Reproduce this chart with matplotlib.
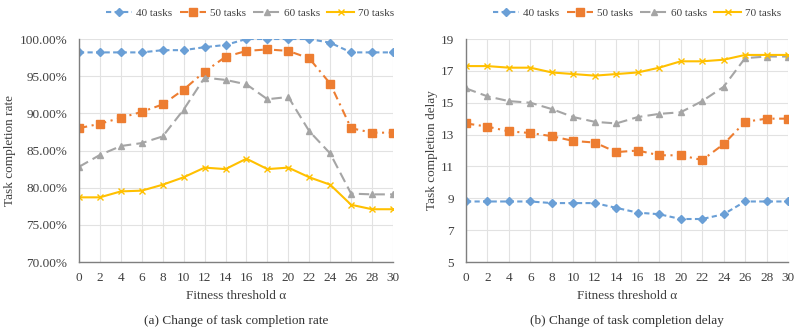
import numpy as np
import matplotlib
matplotlib.use("Agg")
from matplotlib import pyplot as plt
from matplotlib.ticker import FuncFormatter

plt.rcParams['font.family'] = ['Liberation Serif', 'DejaVu Serif']

thresholds = [0, 2, 4, 6, 8, 10, 12, 14, 16, 18, 20, 22, 24, 26, 28, 30]
series_names = ['40 tasks', '50 tasks', '60 tasks', '70 tasks']

# completion rate (%)
rate_40 = [98.2, 98.2, 98.2, 98.2, 98.5, 98.5, 98.9, 99.2, 100.0, 100.0, 100.0, 100.0, 99.5, 98.2, 98.2, 98.2]
rate_50 = [88.0, 88.6, 89.4, 90.2, 91.2, 93.2, 95.6, 97.6, 98.4, 98.6, 98.4, 97.4, 94.0, 88.0, 87.4, 87.4]
rate_60 = [82.8, 84.4, 85.6, 86.0, 86.9, 90.5, 94.8, 94.5, 93.9, 91.9, 92.2, 87.6, 84.6, 79.2, 79.1, 79.1]
rate_70 = [78.7, 78.7, 79.5, 79.6, 80.4, 81.4, 82.7, 82.5, 83.9, 82.5, 82.7, 81.4, 80.4, 77.7, 77.1, 77.1]

# completion delay
delay_40 = [8.8, 8.8, 8.8, 8.8, 8.7, 8.7, 8.7, 8.4, 8.1, 8.0, 7.7, 7.7, 8.0, 8.8, 8.8, 8.8]
delay_50 = [13.7, 13.5, 13.2, 13.1, 12.9, 12.6, 12.5, 11.9, 12.0, 11.7, 11.7, 11.4, 12.4, 13.8, 14.0, 14.0]
delay_60 = [15.9, 15.4, 15.1, 15.0, 14.6, 14.1, 13.8, 13.7, 14.1, 14.3, 14.4, 15.1, 16.0, 17.8, 17.9, 17.9]
delay_70 = [17.3, 17.3, 17.2, 17.2, 16.9, 16.8, 16.7, 16.8, 16.9, 17.2, 17.6, 17.6, 17.7, 18.0, 18.0, 18.0]

styles = [
    dict(color='#6a9fd6', linestyle=(0, (2.5, 1.6)), marker='D', markersize=3.8),
    dict(color='#ed7d31', linestyle=(0, (4, 2.2, 1, 2.2)), marker='s', markersize=5.5),
    dict(color='#a5a5a5', linestyle=(0, (5, 2.5)), marker='^', markersize=5),
    dict(color='#ffc000', linestyle='-', marker='x', markersize=5),
]


def draw_panel(ax, series, ylim, yticks, ylabel, caption, ylabel_x, legend_x, fmt=None):
    for name, vals, st in zip(series_names, series, styles):
        ax.plot(thresholds, vals, label=name, linewidth=1.5, markeredgewidth=1.0, **st)
    ax.set_xlim(0, 30)
    ax.set_ylim(*ylim)
    ax.set_xticks(thresholds)
    ax.set_yticks(yticks)
    if fmt:
        ax.yaxis.set_major_formatter(FuncFormatter(fmt))
    ax.grid(True, color='#e2e2e2', linewidth=0.8)
    ax.set_axisbelow(True)
    for s in ['top', 'right']:
        ax.spines[s].set_visible(False)
    for s in ['left', 'bottom']:
        ax.spines[s].set_color('#7f7f7f')
        ax.spines[s].set_linewidth(1.0)
    ax.tick_params(length=0, labelsize=9.5, colors='#404040')
    ax.tick_params(axis='y', pad=8.5)
    ax.tick_params(axis='x', pad=7)
    ax.set_ylabel(ylabel, fontsize=9.5, color='#404040', va='center')
    ax.yaxis.set_label_coords(ylabel_x, 0.5)
    ax.set_xlabel('Fitness threshold α', fontsize=9.5, color='#404040', va='center')
    ax.xaxis.set_label_coords(0.5, -0.151)
    pos = ax.get_position()
    fig.text((pos.x0 + pos.x1) / 2, 0.033, caption, ha='center', va='center',
             fontsize=9.5, color='#333333')
    handles, labels = ax.get_legend_handles_labels()
    fig.legend(handles, labels, loc='center', bbox_to_anchor=(legend_x, 0.962), ncol=4,
               frameon=False, fontsize=8, handlelength=2.4, columnspacing=0.65,
               handletextpad=0.35, labelcolor='#404040')


fig = plt.figure(figsize=(7.96, 3.32), dpi=100)
ax1 = fig.add_axes([0.0992, 0.2108, 0.3945, 0.6717])
ax2 = fig.add_axes([0.5854, 0.2108, 0.4046, 0.6717])

draw_panel(ax1, [rate_40, rate_50, rate_60, rate_70], (70, 100), np.arange(70, 101, 5),
           'Task completion rate', '(a) Change of task completion rate', -0.22, 0.314,
           fmt=lambda v, p: f'{v:.2f}%')
draw_panel(ax2, [delay_40, delay_50, delay_60, delay_70], (5, 19), np.arange(5, 20, 2),
           'Task completion delay', '(b) Change of task completion delay', -0.106, 0.80)

fig.savefig('out.png', dpi=100)
